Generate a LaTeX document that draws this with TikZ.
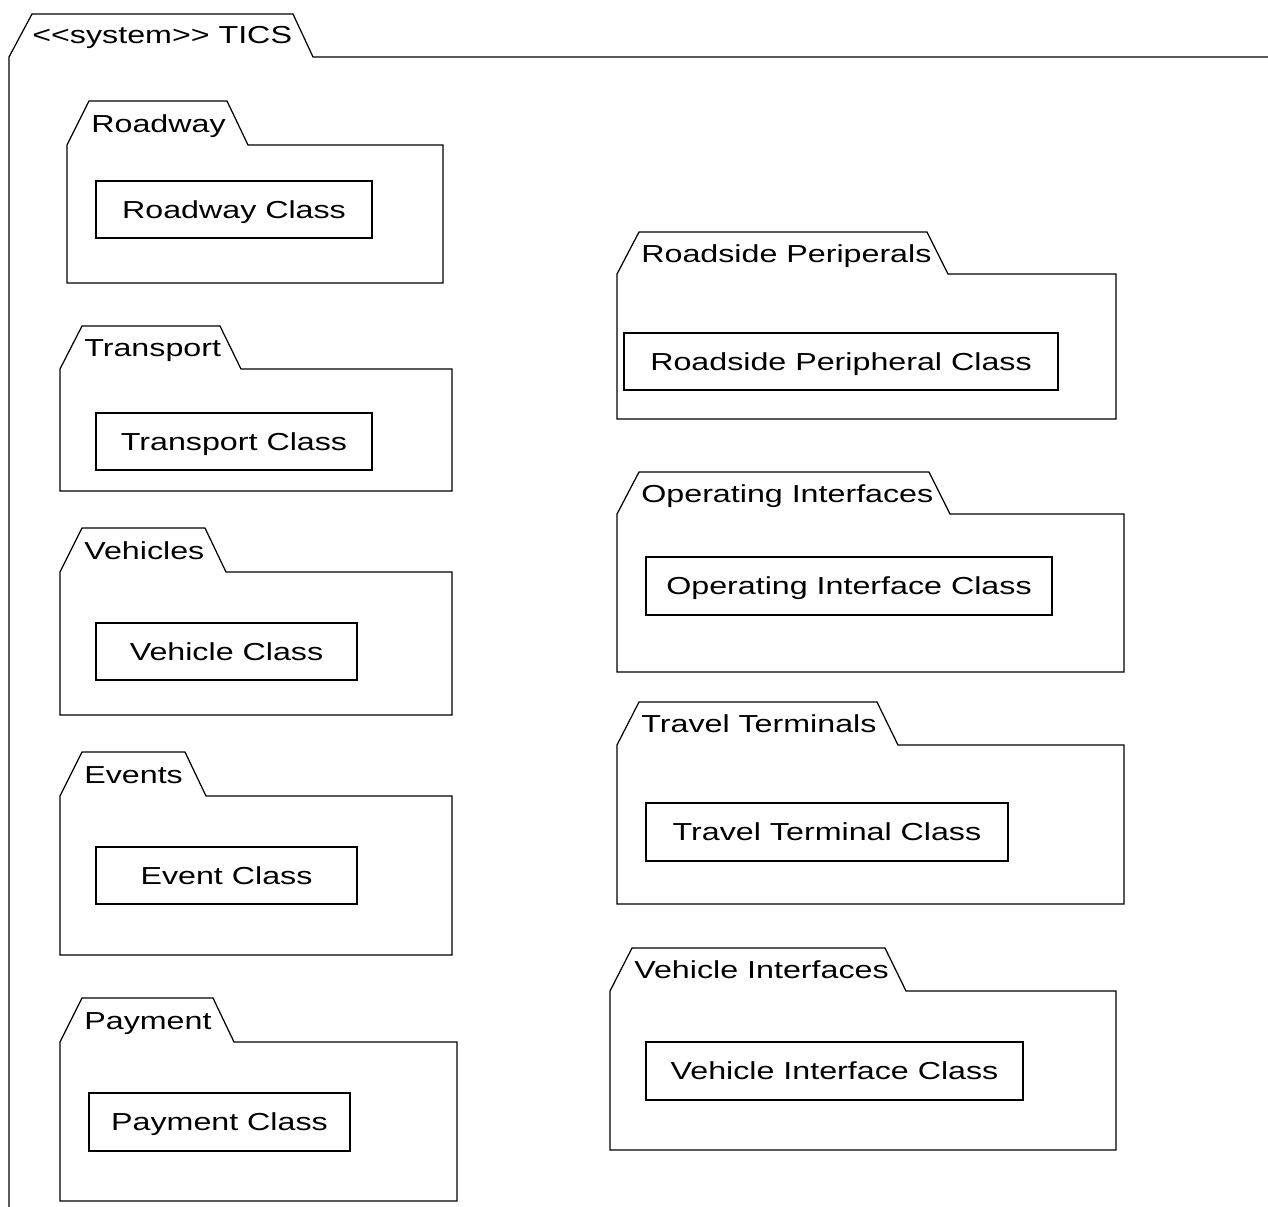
\documentclass[tikz,border=0pt]{standalone}
\usepackage{fontspec}
\setmainfont{Liberation Sans}[FakeStretch=1.31]
\tikzset{pkg line/.style={line width=0.7pt},
  pkg label/.style={anchor=base west,inner sep=0pt,font=\fontsize{14}{16}\selectfont},
  class box/.style={draw,line width=0.7pt,inner sep=0pt,text height=10pt,text depth=0pt,font=\fontsize{14}{16}\selectfont}}

% package: name, left, tab top, body top, tab right, right, bottom, label
\newcommand{\umlpackage}[8]{%
  \draw[pkg line] (#2,#4) -- ({#2+22},#3) -- (#5,#3) -- ({#5+21},#4) -- (#6,#4) -- (#6,#7) -- (#2,#7) -- cycle;
  \node[pkg label] (#1) at ({#2+24},{(#3+#4)/2+9}) {#8};}
% class: name, x1, y1, x2, y2, text
\newcommand{\umlclass}[6]{%
  \node[class box,minimum width={(#4-#2)*0.02cm},minimum height={(#5-#3)*0.02cm}]
    (#1) at ({(#2+#4)/2},{(#3+#5)/2}) {#6};}

\begin{document}
\begin{tikzpicture}[x=0.02cm,y=-0.02cm]
  \useasboundingbox (0,0) rectangle (1268,1207);

  % system frame
  \draw[pkg line] (9,1207) -- (9,57) -- (32,14) -- (293,14) -- (313,57) -- (1268,57);
  \node[pkg label] (tics) at (32,43) {<\kern0pt<system>\kern0pt> TICS};

  % left column
  \umlpackage{roadway}{67}{101}{145}{227}{443}{283}{Roadway}
  \umlclass{roadwayC}{96}{181}{372}{238}{Roadway Class}
  \umlpackage{transport}{60}{326}{369}{220}{452}{491}{Transport}
  \umlclass{transportC}{96}{413}{372}{470}{Transport Class}
  \umlpackage{vehicles}{60}{528}{572}{205}{452}{715}{Vehicles}
  \umlclass{vehicleC}{96}{623}{357}{680}{Vehicle Class}
  \umlpackage{events}{60}{752}{796}{185}{452}{955}{Events}
  \umlclass{eventC}{96}{847}{357}{904}{Event Class}
  \umlpackage{payment}{60}{998}{1042}{213}{457}{1201}{Payment}
  \umlclass{paymentC}{89}{1093}{350}{1151}{Payment Class}

  % right column
  \umlpackage{roadside}{617}{232}{274}{927}{1116}{419}{Roadside Periperals}
  \umlclass{roadsideC}{624}{333}{1058}{390}{Roadside Peripheral Class}
  \umlpackage{operating}{617}{472}{514}{929}{1124}{672}{Operating Interfaces}
  \umlclass{operatingC}{646}{557}{1052}{615}{Operating Interface Class}
  \umlpackage{travel}{617}{702}{745}{877}{1124}{904}{Travel Terminals}
  \umlclass{travelC}{646}{803}{1008}{861}{Travel Terminal Class}
  \umlpackage{vehint}{610}{948}{991}{885}{1116}{1150}{Vehicle Interfaces}
  \umlclass{vehintC}{646}{1042}{1023}{1100}{Vehicle Interface Class}
\end{tikzpicture}
\end{document}
